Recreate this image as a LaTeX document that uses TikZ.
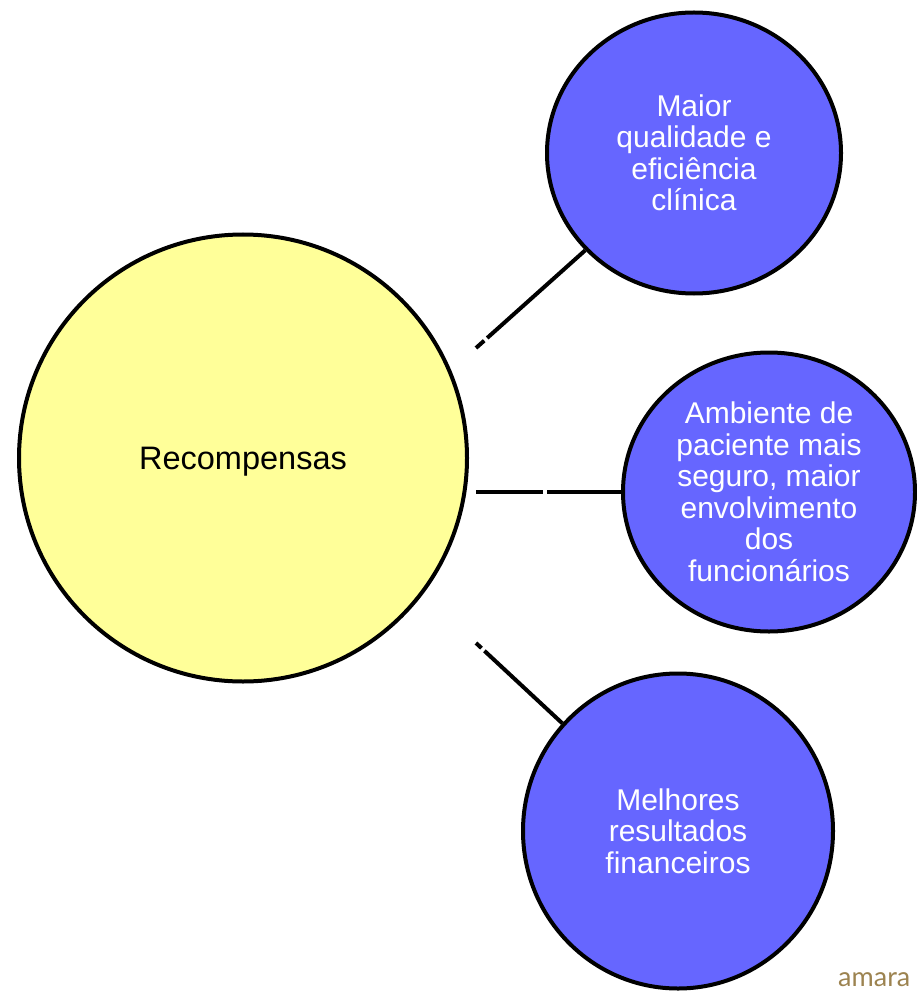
\documentclass[tikz,border=0pt]{standalone}
\usepackage{fontspec}
\setmainfont{Liberation Sans}
\newfontfamily\brandfont{Lato}
\usetikzlibrary{shapes.geometric}
\definecolor{bluefill}{HTML}{6666FF}
\definecolor{yellowfill}{HTML}{FFFF99}
\definecolor{brandcol}{HTML}{9C8350}
\begin{document}
\begin{tikzpicture}[x=1pt,y=-1pt,
  bubble/.style={draw=black,line width=4pt,ellipse,inner sep=0pt,align=center,
    font=\fontsize{30}{31.5}\selectfont},
  benefit/.style={bubble,fill=bluefill,text=white},
  conn/.style={draw=black,line width=4pt,line cap=butt}]
\useasboundingbox (0,0) rectangle (917,992);
\node[bubble,fill=yellowfill,minimum width=448pt,minimum height=447pt,
  font=\fontsize{32.5}{34}\selectfont,text height=23pt,text depth=0pt] (main) at (243,458) {Recompensas};
\node[benefit,minimum width=294pt,minimum height=281pt] (q1) at (694,153)
  {Maior\\qualidade e\\eficiência\\clínica};
\node[benefit,minimum width=292pt,minimum height=279pt] (q2) at (769,492)
  {Ambiente de\\paciente mais\\seguro, maior\\envolvimento\\dos\\funcionários};
\node[benefit,minimum width=310pt,minimum height=315pt] (q3) at (678,831)
  {Melhores\\resultados\\financeiros};
\coordinate (s1) at (476,348);
\coordinate (s2) at (476,492);
\coordinate (s3) at (476,643);
\draw[conn,dash pattern=on 11pt off 4pt on 600pt] (s1) -- (q1);
\draw[conn,dash pattern=on 67pt off 4pt on 600pt] (s2) -- (q2);
\draw[conn,dash pattern=on 7.5pt off 4pt on 600pt] (s3) -- (q3);
\node[anchor=base west,inner sep=0pt,text=brandcol,font=\brandfont\fontsize{27}{27}\selectfont] (brand) at (838,986) {amara};
\end{tikzpicture}
\end{document}
